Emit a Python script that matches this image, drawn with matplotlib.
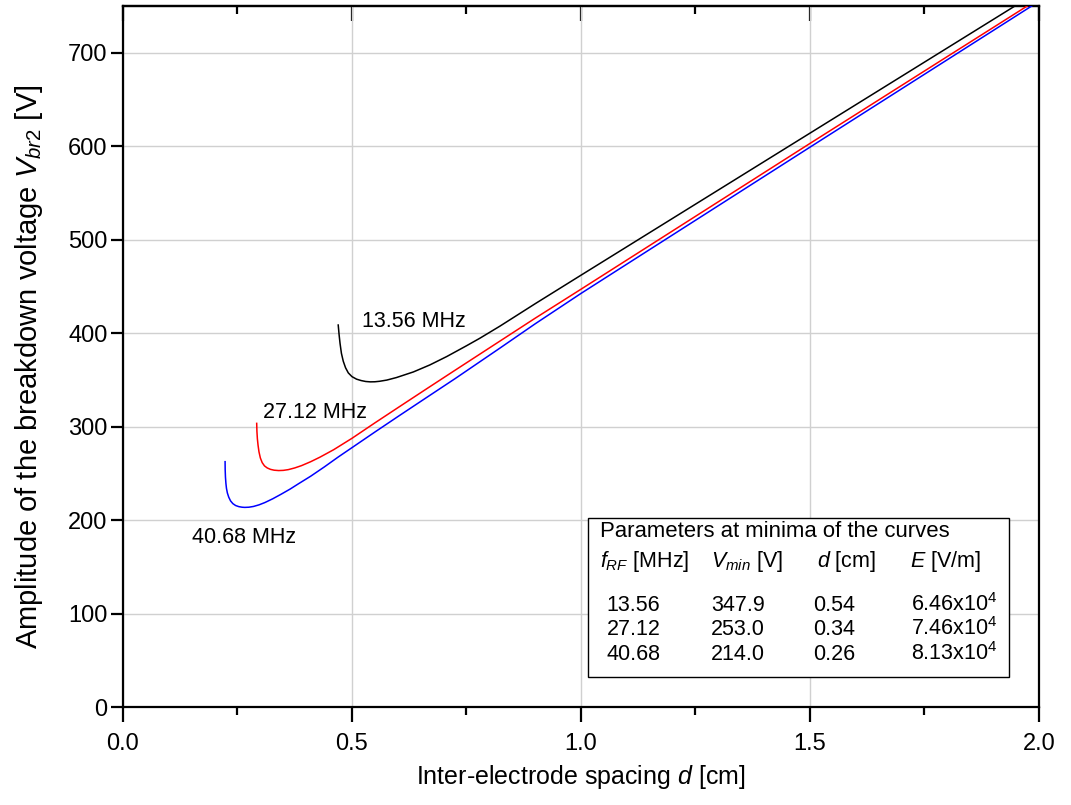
import matplotlib
matplotlib.use("Agg")
import matplotlib.pyplot as plt
from matplotlib.patches import Rectangle
from matplotlib.ticker import MultipleLocator, FormatStrFormatter

plt.rcParams['font.family'] = ['Liberation Sans', 'DejaVu Sans']
plt.rcParams['mathtext.fontset'] = 'custom'
plt.rcParams['mathtext.rm'] = 'Liberation Sans'
plt.rcParams['mathtext.it'] = 'Liberation Sans:italic'

# curves
d_1356 = [0.470, 0.472, 0.474, 0.477, 0.481, 0.486, 0.492, 0.500, 0.510, 0.520, 0.530,
          0.540, 0.550, 0.560, 0.576, 0.597, 0.634, 0.670, 0.707, 0.750, 0.779, 0.823,
          0.900, 1.0, 1.5, 2.0]
v_1356 = [408.7, 398.0, 389.0, 378.4, 370.0, 363.0, 357.5, 353.5, 350.8, 349.3, 348.3,
          347.9, 348.0, 348.5, 349.8, 352.5, 358.5, 366.0, 375.0, 386.5, 394.5, 407.5,
          431.5, 462.0, 614.0, 766.0]

d_2712 = [0.292, 0.2925, 0.2935, 0.295, 0.297, 0.300, 0.304, 0.309, 0.315, 0.322, 0.330,
          0.340, 0.350, 0.361, 0.375, 0.390, 0.410, 0.430, 0.460, 0.500, 0.550, 0.601,
          0.660, 0.725, 0.823, 0.900, 1.0, 1.5, 2.0]
v_2712 = [303.5, 295.0, 287.0, 280.0, 273.0, 266.5, 261.5, 258.0, 255.8, 254.3, 253.4,
          253.0, 253.2, 254.0, 255.8, 258.3, 262.5, 267.3, 275.3, 287.5, 304.0, 320.5,
          339.5, 360.3, 391.5, 416.0, 447.0, 603.0, 758.0]

d_4068 = [0.223, 0.2232, 0.2238, 0.2248, 0.226, 0.228, 0.231, 0.235, 0.240, 0.246, 0.253,
          0.260, 0.266, 0.275, 0.285, 0.297, 0.310, 0.327, 0.345, 0.365, 0.383, 0.410,
          0.440, 0.470, 0.500, 0.550, 0.601, 0.660, 0.725, 0.823, 0.900, 1.0, 1.5, 2.0]
v_4068 = [262.5, 254.0, 246.0, 239.3, 234.0, 229.0, 224.5, 220.5, 217.6, 215.6, 214.4,
          213.8, 213.6, 213.8, 214.6, 216.3, 218.8, 222.8, 227.6, 233.2, 238.8, 247.0,
          257.0, 267.5, 277.5, 294.2, 311.0, 330.2, 351.3, 384.0, 410.0, 442.5, 599.0, 755.0]

curve_labels = ['13.56 MHz', '27.12 MHz', '40.68 MHz']
curve_colors = ['black', 'red', 'blue']

# table of minima
table_title = 'Parameters at minima of the curves'
table_head = ['$f_{RF}$ [MHz]', '$V_{min}$ [V]', '$d$ [cm]', '$E$ [V/m]']
f_rf = ['13.56', '27.12', '40.68']
v_min = ['347.9', '253.0', '214.0']
d_min = ['0.54', '0.34', '0.26']
e_min = ['6.46x10$^4$', '7.46x10$^4$', '8.13x10$^4$']

fig = plt.figure(figsize=(10.71, 8.05), dpi=100)
ax = fig.add_axes([0.1148, 0.1217, 0.8553, 0.8708])

for d, v, c in zip([d_1356, d_2712, d_4068], [v_1356, v_2712, v_4068], curve_colors):
    ax.plot(d, v, color=c, lw=1.1, zorder=3)

ax.set_xlim(0, 2.0)
ax.set_ylim(0, 750)
ax.xaxis.set_major_locator(MultipleLocator(0.5))
ax.xaxis.set_minor_locator(MultipleLocator(0.25))
ax.yaxis.set_major_locator(MultipleLocator(100))
ax.xaxis.set_major_formatter(FormatStrFormatter('%.1f'))
ax.grid(True, which='major', color='#d0d0d0', lw=1.0, zorder=0)
ax.set_axisbelow(True)

for s in ax.spines.values():
    s.set_linewidth(1.6)
ax.tick_params(axis='x', which='major', labelsize=17, width=1.6, length=11,
               direction='out', pad=8)
ax.tick_params(axis='x', which='minor', width=1.6, length=5.5, direction='out')
ax.tick_params(axis='y', which='major', labelsize=17, width=1.6, length=9,
               direction='out', pad=2)
ax.tick_params(axis='y', which='minor', left=False)

# inward ticks mirrored on the top axis only
top = ax.secondary_xaxis('top')
top.set_xticks([0.0, 0.5, 1.0, 1.5, 2.0])
top.xaxis.set_minor_locator(MultipleLocator(0.25))
top.tick_params(which='major', direction='in', length=11, width=1.6, labeltop=False)
top.tick_params(which='minor', direction='in', length=5.5, width=1.6)
top.spines['top'].set_linewidth(1.6)

ax.set_xlabel('Inter-electrode spacing $d$ [cm]', fontsize=18)
ax.xaxis.label.set_va('baseline')
ax.xaxis.set_label_coords(0.5, -0.1103)
ax.set_ylabel('Amplitude of the breakdown voltage $V_{br2}$ [V]', fontsize=21)
ax.yaxis.set_label_coords(-0.085, 0.485)

ax.text(0.521, 406.5, curve_labels[0], fontsize=15.5, va='baseline', ha='left')
ax.text(0.305, 309.2, curve_labels[1], fontsize=15.5, va='baseline', ha='left')
ax.text(0.150, 175.5, curve_labels[2], fontsize=15.5, va='baseline', ha='left')

# parameter box
ax.add_patch(Rectangle((1.016, 31.8), 0.918, 170.4, fill=True, facecolor='white',
                       edgecolor='black', lw=1.0, zorder=4))
ax.text(1.0415, 182.2, table_title, fontsize=15.9, va='baseline', ha='left', zorder=5)
head_x = [1.0415, 1.2838, 1.5159, 1.7183]
for x, h in zip(head_x, table_head):
    ax.text(x, 150, h, fontsize=15.5, va='baseline', ha='left', zorder=5)
col_x = [1.056, 1.2838, 1.507, 1.7205]
row_y = [102.7, 77.0, 50.3]
for i, y in enumerate(row_y):
    for x, col in zip(col_x, [f_rf, v_min, d_min, e_min]):
        ax.text(x, y, col[i], fontsize=15.5, va='baseline', ha='left', zorder=5)

fig.savefig('out.png', dpi=100)
